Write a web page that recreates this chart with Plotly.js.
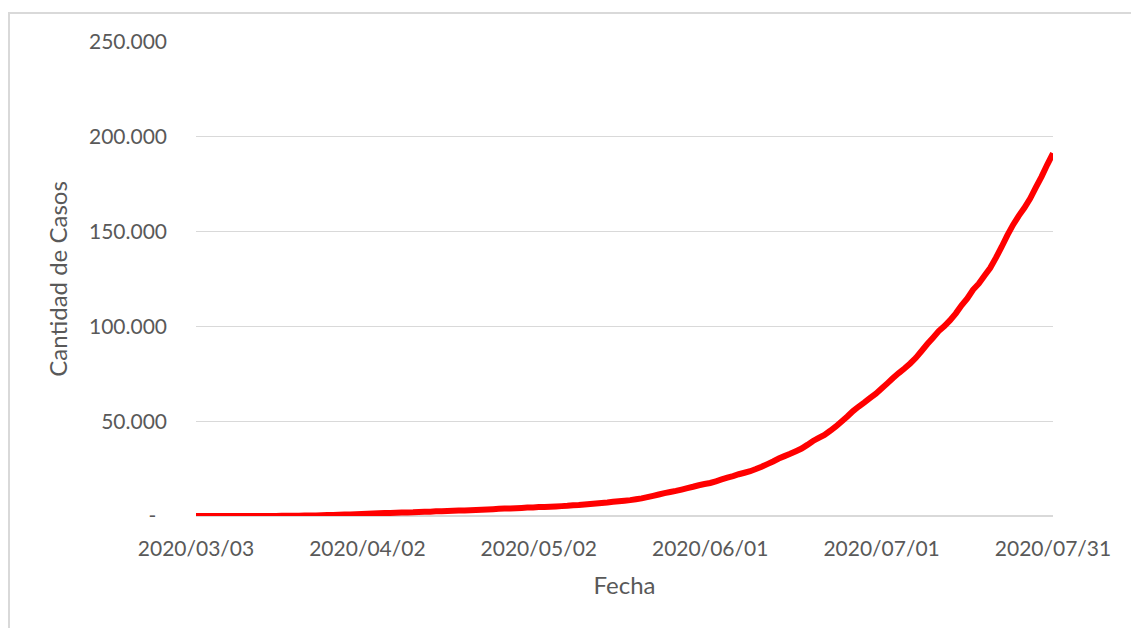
<!DOCTYPE html>
<html>
<head>
<meta charset="utf-8">
<script src="https://cdn.plot.ly/plotly-3.0.1.min.js"></script>
<style>
  html, body { margin: 0; padding: 0; background: #ffffff; }
  #wrap { position: relative; width: 1131px; height: 628px; overflow: hidden; }
  #frame { position: absolute; left: 8px; top: 12px; width: 1200px; height: 700px;
           border-left: 2px solid #d9d9d9; border-top: 2px solid #d9d9d9; pointer-events: none; }
  #chart { position: absolute; left: 0; top: 0; width: 1131px; height: 628px; }
</style>
</head>
<body>
<div id="wrap">
  <div id="chart"></div>
  <div id="frame"></div>
</div>
<script>
// First day of the series; one value per consecutive day follows.
const startDate = "2020-03-03";

// Cumulative confirmed cases, 2020/03/03 through 2020/07/31
const casos = [
  // marzo (03 - 31)
  1, 1, 1, 2, 8, 9, 12, 17, 19, 19, 31, 34, 45, 56, 65, 79, 97, 128, 158, 225,
  266, 301, 387, 502, 589, 690, 745, 820, 966,
  // abril
  1054, 1133, 1265, 1451, 1554, 1628, 1715, 1795, 1894, 1975, 2142, 2208, 2277, 2443, 2571,
  2669, 2758, 2839, 2941, 3031, 3144, 3288, 3435, 3607, 3780, 3892, 4003, 4127, 4285, 4428,
  // mayo
  4532, 4681, 4783, 4887, 5020, 5208, 5371, 5611, 5776, 6034, 6278, 6563, 6879, 7134, 7479,
  7805, 8068, 8371, 8809, 9283, 9931, 10649, 11353, 12076, 12628, 13228, 13933, 14702, 15419,
  16214, 16851,
  // junio
  17415, 18319, 19268, 20197, 21037, 22020, 22794, 23620, 24761, 25987, 27373, 28764, 30295,
  31577, 32785, 34159, 35552, 37510, 39570, 41204, 42785, 44931, 47216, 49851, 52457, 55343,
  57744, 59933, 62268, 64530,
  // julio
  67197, 69941, 72786, 75376, 77815, 80447, 83426, 87030, 90693, 94060, 97509, 100166, 103265,
  106910, 111160, 114783, 119301, 122524, 126755, 130774, 136118, 141900, 148027, 153520,
  158334, 162526, 167416, 173355, 178996, 185373, 191302
];

// Axis ticks
const xTickDates = ["2020-03-03", "2020-04-02", "2020-05-02", "2020-06-01", "2020-07-01", "2020-07-31"];
const yTickValues = [0, 50000, 100000, 150000, 200000, 250000];
const yTickLabels = ["-\u00a0\u00a0", "50.000", "100.000", "150.000", "200.000", "250.000"];

// Consecutive calendar days matching the values above
function dayList(start, n) {
  const out = [];
  const d0 = new Date(start + "T00:00:00Z");
  for (let i = 0; i < n; i++) {
    const d = new Date(d0.getTime() + i * 86400000);
    out.push(d.toISOString().slice(0, 10));
  }
  return out;
}
const fechas = dayList(startDate, casos.length);

const textColor = "#595959";
const gridColor = "#d9d9d9";
const fontFamily = "Lato, 'Open Sans', sans-serif";

const trace = {
  type: "scatter",
  mode: "lines",
  x: fechas,
  y: casos,
  line: { color: "#ff0000", width: 6, shape: "linear", simplify: false },
  hoverinfo: "x+y"
};

const layout = {
  width: 1131,
  height: 628,
  margin: { l: 196, r: 78, t: 42, b: 112 },
  paper_bgcolor: "#ffffff",
  plot_bgcolor: "#ffffff",
  showlegend: false,
  font: { family: fontFamily, color: textColor, size: 21 },
  xaxis: {
    type: "date",
    range: ["2020-03-03", "2020-07-31"],
    tickmode: "array",
    tickvals: xTickDates,
    tickformat: "%Y/%m/%d",
    showgrid: false,
    zeroline: false,
    showline: false,
    ticks: "",
    ticklabelstandoff: 18,
    tickfont: { family: fontFamily, color: textColor, size: 21 },
    title: { text: "Fecha", font: { family: fontFamily, color: textColor, size: 24 }, standoff: 18 }
  },
  yaxis: {
    range: [0, 250000],
    tickmode: "array",
    tickvals: yTickValues,
    ticktext: yTickLabels,
    showgrid: true,
    gridcolor: gridColor,
    gridwidth: 1.3,
    zeroline: true,
    zerolinecolor: gridColor,
    zerolinewidth: 1.3,
    showline: false,
    ticks: "",
    ticklabelstandoff: 28,
    tickfont: { family: fontFamily, color: textColor, size: 21 },
    title: { text: "Cantidad de Casos", font: { family: fontFamily, color: textColor, size: 24 }, standoff: 14 }
  }
};

Plotly.newPlot("chart", [trace], layout, { staticPlot: true, displayModeBar: false });
</script>
</body>
</html>
